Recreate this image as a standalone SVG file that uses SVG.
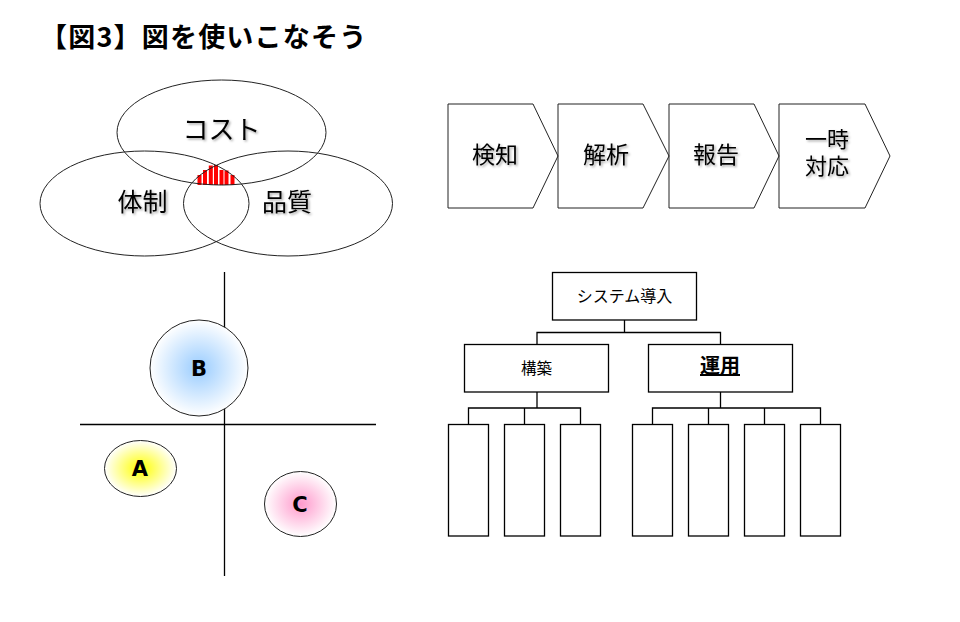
<svg xmlns="http://www.w3.org/2000/svg" width="960" height="622" viewBox="0 0 960 622">
<defs>
<style>
.ln{fill:none;stroke:#000;stroke-width:1.3}
.sh{fill:#fff;stroke:#000;stroke-width:1.3}
.thin{fill:none;stroke:#222;stroke-width:1}
.jp{font-family:"Noto Sans CJK JP","Noto Sans",sans-serif;fill:#000;text-anchor:middle}
.lab{font-family:"DejaVu Sans","Noto Sans",sans-serif;font-weight:bold;font-size:21px;fill:#000;text-anchor:middle}
.bar{fill:#f00}
</style>
<filter id="shadow" x="-20%" y="-20%" width="140%" height="140%">
<feDropShadow dx="1.5" dy="1.5" stdDeviation="1" flood-color="#000" flood-opacity="0.35"/>
</filter>
<radialGradient id="gB"><stop offset="0" stop-color="#99ccff"/><stop offset="1" stop-color="#fff"/></radialGradient>
<radialGradient id="gA"><stop offset="0" stop-color="#ffff00"/><stop offset="1" stop-color="#fff"/></radialGradient>
<radialGradient id="gC"><stop offset="0" stop-color="#ff99cc"/><stop offset="1" stop-color="#fff"/></radialGradient>
</defs>
<rect width="960" height="622" fill="#fff"/>

<text class="jp" x="40" y="47" font-size="27" font-weight="bold" letter-spacing="1.2" style="text-anchor:start">【図3】図を使いこなそう</text>

<!-- Venn -->
<g id="venn">
<g id="venn-bars">
<rect class="bar" x="197.5" y="175" width="4" height="10"/>
<rect class="bar" x="203" y="170" width="4" height="15"/>
<rect class="bar" x="208.8" y="165.5" width="4" height="19.5"/>
<rect class="bar" x="214" y="165" width="4" height="20"/>
<rect class="bar" x="219.5" y="170" width="4" height="15"/>
<rect class="bar" x="224.5" y="170.5" width="4" height="14.5"/>
<rect class="bar" x="230.5" y="175" width="4" height="10"/>
</g>
<g id="cost"><ellipse class="thin" cx="221.5" cy="132.5" rx="104.5" ry="52.5"/>
<text class="jp" x="221.5" y="139" font-size="26" filter="url(#shadow)">コスト</text></g>
<g id="taisei"><ellipse class="thin" cx="144.5" cy="203.5" rx="104.5" ry="52.5"/>
<text class="jp" x="142.5" y="211" font-size="25" filter="url(#shadow)">体制</text></g>
<g id="hinshitsu"><ellipse class="thin" cx="288" cy="203.5" rx="104.5" ry="52.5"/>
<text class="jp" x="287" y="211" font-size="25" filter="url(#shadow)">品質</text></g>
</g>

<!-- Chevrons -->
<g id="chevrons">
<g id="kenchi"><path class="thin" d="M448 104H533L558 156L533 208H448Z"/>
<text class="jp" x="495" y="163" font-size="23" filter="url(#shadow)">検知</text></g>
<g id="kaiseki"><path class="thin" d="M558 104H643L669 156L643 208H558Z"/>
<text class="jp" x="606" y="163" font-size="23" filter="url(#shadow)">解析</text></g>
<g id="houkoku"><path class="thin" d="M669 104H754L779 156L754 208H669Z"/>
<text class="jp" x="716" y="163" font-size="23" filter="url(#shadow)">報告</text></g>
<g id="ichiji"><path class="thin" d="M779 104H865L890 156L865 208H779Z"/>
<text class="jp" font-size="22" filter="url(#shadow)"><tspan x="827" y="147">一時</tspan><tspan x="827" y="174">対応</tspan></text></g>
</g>

<!-- Quadrant -->
<g id="axes">
<line class="ln" x1="224.5" y1="272" x2="224.5" y2="576"/>
<line class="ln" x1="80" y1="424.5" x2="376" y2="424.5"/>
</g>
<g id="B"><ellipse cx="199" cy="368" rx="49" ry="48" fill="url(#gB)" stroke="#222" stroke-width="1"/>
<text class="lab" x="199" y="375.5">B</text></g>
<g id="A"><ellipse cx="140.5" cy="468.5" rx="36" ry="28" fill="url(#gA)" stroke="#222" stroke-width="1"/>
<text class="lab" x="140" y="476">A</text></g>
<g id="C"><ellipse cx="300.5" cy="504" rx="36" ry="32.5" fill="url(#gC)" stroke="#222" stroke-width="1"/>
<text class="lab" x="300" y="511.5">C</text></g>

<!-- Tree -->
<g id="connectors">
<path class="ln" d="M624.5 320V332.5M537 344V332.5H720.5V344"/>
<path class="ln" d="M537 392V408M468.5 424V408H580.5V424M524.5 408V424"/>
<path class="ln" d="M720.5 392V408M652.5 424V408H820.5V424M708.5 408V424M764.5 408V424"/>
</g>
<g id="root"><rect class="sh" x="552.5" y="272.5" width="144" height="47.5"/>
<text class="jp" x="624.5" y="301.5" font-size="16">システム導入</text></g>
<g id="kouchiku"><rect class="sh" x="464.5" y="344.5" width="144" height="47.5"/>
<text class="jp" x="536.5" y="373.5" font-size="15.5">構築</text></g>
<g id="unyou"><rect class="sh" x="648.5" y="344.5" width="144" height="47.5"/>
<text class="jp" x="720" y="373" font-size="20" font-weight="bold" text-decoration="underline">運用</text></g>
<g id="leaves">
<rect class="sh" x="448.5" y="424.5" width="40" height="111.5"/>
<rect class="sh" x="504.5" y="424.5" width="40" height="111.5"/>
<rect class="sh" x="560.5" y="424.5" width="40" height="111.5"/>
<rect class="sh" x="632.5" y="424.5" width="40" height="111.5"/>
<rect class="sh" x="688.5" y="424.5" width="40" height="111.5"/>
<rect class="sh" x="744.5" y="424.5" width="40" height="111.5"/>
<rect class="sh" x="800.5" y="424.5" width="40" height="111.5"/>
</g>
</svg>
